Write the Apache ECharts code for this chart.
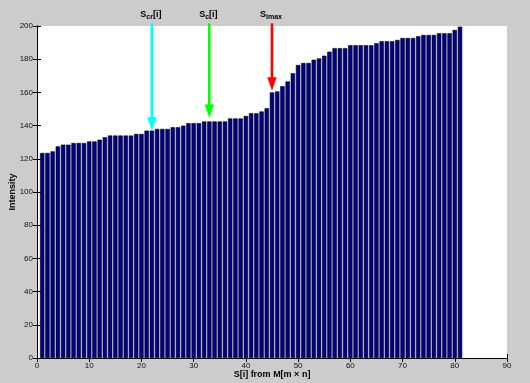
<!DOCTYPE html>
<html>
<head>
<meta charset="utf-8">
<script src="https://cdn.jsdelivr.net/npm/echarts@6/dist/echarts.min.js"></script>
<style>
html,body{margin:0;padding:0;background:#cccccc;}
#c{width:530px;height:383px;}
</style>
</head>
<body>
<div id="c"></div>
<script>
// bar positions (index of S[i])
const positions = [1,2,3,4,5,6,7,8,9,10,11,12,13,14,15,16,17,18,19,20,
  21,22,23,24,25,26,27,28,29,30,31,32,33,34,35,36,37,38,39,40,
  41,42,43,44,45,46,47,48,49,50,51,52,53,54,55,56,57,58,59,60,
  61,62,63,64,65,66,67,68,69,70,71,72,73,74,75,76,77,78,79,80,81];
// intensity
const intensity = [123.5,123.5,124.5,127.5,128.5,128.5,129.5,129.5,129.5,130.5,
  130.5,131.5,133,134,134,134,134,134,135,135,
  137,137,138,138,138,139,139,140,141.5,141.5,
  141.5,142.5,142.5,142.5,142.5,142.5,144.3,144.3,144.3,145.8,
  147.4,147.4,148.5,150.5,160,160.6,163.8,166.6,171.5,176.5,
  177.7,177.7,179.7,180.5,182.1,184.5,186.7,186.7,186.7,188.4,
  188.4,188.4,188.4,188.4,189.6,190.8,190.8,190.8,191.6,192.8,
  192.8,192.8,193.8,194.6,194.6,194.6,195.6,195.6,195.6,197.6,199.6];
// axis ticks
const xMin = 0, xMax = 90, xStep = 10;
const yMin = 0, yMax = 200, yStep = 20;
// annotation arrows
const markerX = [22, 33, 45];
const markerTip = [137.3, 145, 161.4];
const markerTop = [201.6, 201.6, 201.6];
const markerColor = ['#00ffff', '#00ff00', '#ff0000'];
const markerSub = ['cr', 'c', 'imax'];
const markerSuffix = ['[i]', '[i]', ''];

const FONT = 'Liberation Sans, Arial, Helvetica, sans-serif';
const chart = echarts.init(document.getElementById('c'), null, {renderer: 'canvas'});

const axisCommon = {
  axisLine: {show: true, lineStyle: {color: '#000', width: 1}},
  axisTick: {show: true, inside: true, length: 4, lineStyle: {color: '#000', width: 1}},
  splitLine: {show: false}
};

chart.setOption({
  animation: false,
  backgroundColor: '#cccccc',
  grid: {left: 37, top: 26, width: 470, height: 332, show: true, backgroundColor: '#ffffff', borderWidth: 0,
         containLabel: false, outerBoundsMode: 'none'},
  xAxis: [
    Object.assign({
      type: 'value', min: xMin, max: xMax, interval: xStep, position: 'bottom',
      axisLabel: {fontSize: 8, color: '#111', margin: 4, fontFamily: FONT},
      name: 'S[i] from M[m × n]', nameLocation: 'middle', nameGap: 12, nameMoveOverlap: false,
      nameTextStyle: {fontSize: 9, fontWeight: 'bold', color: '#000', fontFamily: FONT}
    }, axisCommon),
    Object.assign({
      type: 'value', min: xMin, max: xMax, interval: xStep, position: 'top',
      axisLabel: {show: false}
    }, axisCommon)
  ],
  yAxis: [
    Object.assign({
      type: 'value', min: yMin, max: yMax, interval: yStep, position: 'left',
      axisLabel: {fontSize: 8, color: '#111', margin: 4, fontFamily: FONT},
      name: 'Intensity', nameLocation: 'middle', nameGap: 20, nameRotate: 90, nameMoveOverlap: false,
      nameTextStyle: {fontSize: 9, fontWeight: 'bold', color: '#000', fontFamily: FONT}
    }, axisCommon),
    Object.assign({
      type: 'value', min: yMin, max: yMax, interval: yStep, position: 'right',
      axisLabel: {show: false}
    }, axisCommon)
  ],
  series: [{
    type: 'bar',
    xAxisIndex: 0, yAxisIndex: 0,
    data: positions.map((p, i) => [p, intensity[i]]),
    barWidth: '84%',
    itemStyle: {color: '#00008b', borderColor: '#000', borderWidth: 0.6},
    emphasis: {disabled: true}
  }]
});

const graphics = [];
markerX.forEach((mx, i) => {
  const top = chart.convertToPixel({xAxisIndex: 0, yAxisIndex: 0}, [mx, markerTop[i]]);
  const tip = chart.convertToPixel({xAxisIndex: 0, yAxisIndex: 0}, [mx, markerTip[i]]);
  const headLen = 12.5, headHalf = 4.3;
  graphics.push({
    type: 'line', silent: true, z: 100,
    shape: {x1: top[0], y1: top[1], x2: tip[0], y2: tip[1] - headLen + 1},
    style: {stroke: markerColor[i], lineWidth: 2.6}
  });
  graphics.push({
    type: 'polygon', silent: true, z: 100,
    shape: {points: [[tip[0] - headHalf, tip[1] - headLen], [tip[0] + headHalf, tip[1] - headLen], [tip[0], tip[1]]]},
    style: {fill: markerColor[i], stroke: markerColor[i], lineWidth: 0.5}
  });
  graphics.push({
    type: 'text', silent: true, z: 100,
    x: top[0] - 1, y: top[1] - 9,
    style: {
      text: '{s|S}{b|' + markerSub[i] + '}' + (markerSuffix[i] ? '{s|' + markerSuffix[i] + '}' : ''),
      rich: {
        s: {fontSize: 9, fontWeight: 'bold', fontFamily: FONT, fill: '#000'},
        b: {fontSize: 7, fontWeight: 'bold', fontFamily: FONT, fill: '#000', padding: [6, 0, 0, 0]}
      },
      align: 'center', verticalAlign: 'middle'
    }
  });
});
chart.setOption({graphic: graphics});
</script>
</body>
</html>
